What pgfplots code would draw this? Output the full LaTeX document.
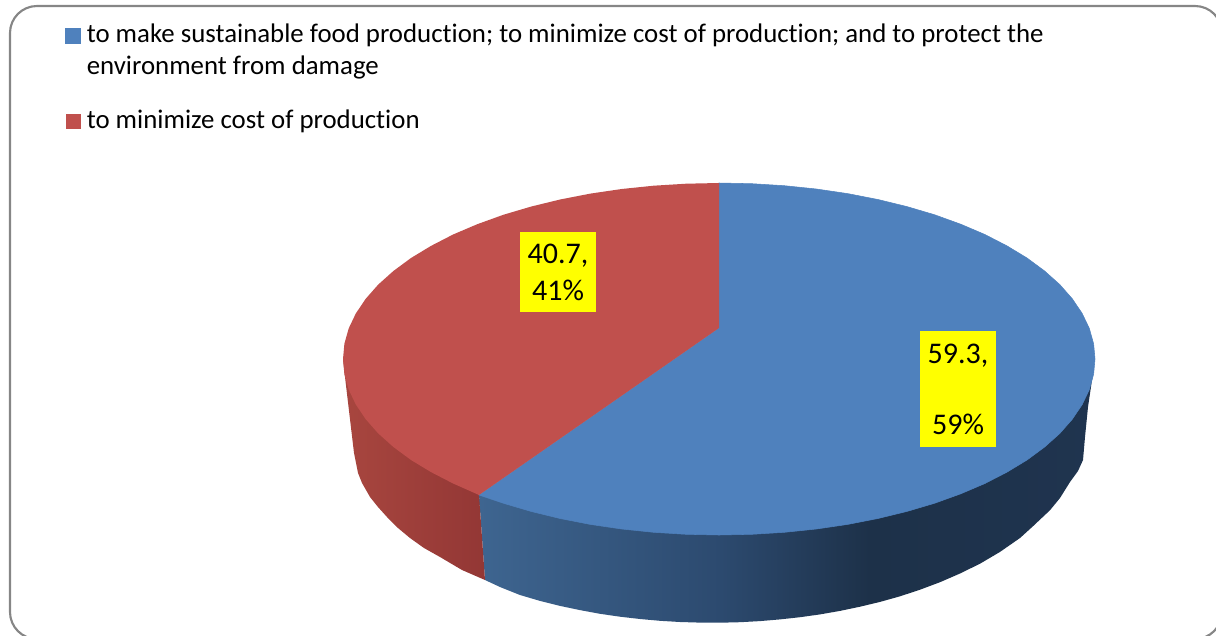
\documentclass[border=0pt]{standalone}
\usepackage{fontspec}
\setmainfont{Carlito}[Ligatures=NoCommon]
\usepackage{pgfplots}
\pgfplotsset{compat=1.18}

\definecolor{pieblue}{HTML}{4F81BD}
\definecolor{piered}{HTML}{C0504D}
\definecolor{frameline}{HTML}{868686}
\definecolor{sideredl}{HTML}{A8463F}
\definecolor{sideredr}{HTML}{933735}
\definecolor{lblyellow}{HTML}{FFFF00}

% side of the blue slice, light on the left and dark from x=870 on
\pgfdeclarehorizontalshading{blueside}{100bp}{
  rgb(0bp)=(.243,.396,.565);
  rgb(25bp)=(.243,.396,.565);
  rgb(44.6bp)=(.173,.290,.435);
  rgb(56.7bp)=(.114,.192,.286);
  rgb(75bp)=(.122,.204,.310);
  rgb(100bp)=(.122,.204,.310)}

\begin{document}
\begin{tikzpicture}
\begin{axis}[
    scale only axis,
    width=912pt,
    height=476.25pt,
    xmin=0, xmax=1216,
    ymin=0, ymax=635,
    y dir=reverse,
    hide axis,
    legend image code/.code={\fill[#1] (0pt,0pt) rectangle (11.25pt,11.25pt);},
    legend cell align=left,
    legend style={
        at={(axis cs:65,24)},
        anchor=north west,
        draw=none,
        fill=none,
        inner sep=0pt,
        row sep=48.75pt,
        nodes={inner sep=0pt, anchor=base west},
        /tikz/column 2/.style={column sep=0pt},
        font=\fontsize{20.13}{24}\selectfont,
    },
]

% frame runs off the right and bottom of the page
\draw[frameline, line width=1.6pt, rounded corners=20.25pt]
    (axis cs:10,6) rectangle (axis cs:1222,639);

% sides, the top faces are painted over them
\addplot[forget plot, draw=none, shading=blueside] coordinates {
    (479,495) (1095,359) (1094,362) (1092,380) (1088,407) (1085,437) (1083,460)
    (1078,471) (1070,482) (1060,498) (1050,510.2) (1033,526.2) (1020,538) (1000,551.9)
    (980,563.7) (960,573.5) (940,582.2) (920,589.7) (900,596.3) (880,601.9) (860,606.7)
    (840,610.9) (820,614.4) (800,617.2) (780,619.4) (760,621.1) (740,622.2) (720,622.7)
    (700,622.6) (680,622) (660,620.8) (640,619) (620,616.7) (600,613.8) (580,610.1)
    (560,605.9) (540,600.9) (520,595) (500,587) (485,580)
};
\addplot[forget plot, draw=none, left color=sideredl, right color=sideredr] coordinates {
    (479,495) (343,359) (345.7,383) (354,453) (358,473) (362,483) (370,497) (378,507)
    (387,517) (398,528) (410,538) (424,548) (440,557) (462,570) (485,580)
};

% top face, blue slice 59.3
\addplot[fill=pieblue, draw=pieblue, line width=0.4pt] coordinates {
    (719,328) (719,183) (751.8,183.7) (784.3,185.7) (816.3,189) (847.6,193.6)
    (877.9,199.5) (907,206.6) (934.7,214.8) (960.7,224.2) (984.9,234.5) (1007,245.9)
    (1027,258) (1044.6,271) (1059.8,284.6) (1072.3,298.8) (1082.2,313.5) (1089.3,328.4)
    (1093.6,343.7) (1095,359) (1093.6,374.3) (1089.3,389.6) (1082.2,404.5) (1072.3,419.2)
    (1059.8,433.4) (1044.6,447) (1027,460) (1007,472.1) (984.9,483.5) (960.7,493.8)
    (934.7,503.2) (907,511.4) (877.9,518.5) (847.6,524.4) (816.3,529) (784.3,532.3)
    (751.8,534.3) (719,535) (686.2,534.3) (653.7,532.3) (621.7,529) (590.4,524.4)
    (560.1,518.5) (531,511.4) (503.3,503.2) (479,495) (719,328)
};
\addlegendentry{\parbox[t]{760pt}{\hspace*{4.5pt}to make sustainable food production; to minimize cost of production; and to protect the\\\hspace*{4.5pt}environment from damage}}

% top face, red slice 40.7
\addplot[fill=piered, draw=none] coordinates {
    (719,328) (479,495) (453.1,483.5) (431,472.1) (411,460) (393.4,447) (378.2,433.4)
    (365.7,419.2) (355.8,404.5) (348.7,389.6) (344.4,374.3) (343,359) (344.4,343.7)
    (348.7,328.4) (355.8,313.5) (365.7,298.8) (378.2,284.6) (393.4,271) (411,258)
    (431,245.9) (453.1,234.5) (477.3,224.2) (503.3,214.8) (531,206.6) (560.1,199.5)
    (590.4,193.6) (621.7,189) (653.7,185.7) (686.2,183.7) (719,183)
};
\addlegendentry{\hspace*{4.5pt}to minimize cost of production}

% data labels
\node[fill=lblyellow, inner sep=0pt, minimum width=57pt, minimum height=60pt, align=center,
      font=\fontsize{22.5}{27.75}\selectfont] at (axis cs:558,272) {40.7,\\41\%};
\node[fill=lblyellow, inner sep=0pt, minimum width=57pt, minimum height=87pt, align=center,
      font=\fontsize{22.5}{53.25}\selectfont] at (axis cs:958,389) {59.3,\\59\%};

\end{axis}
% hidden axis leaves no box of its own, so fix the page to the axis area
\pgfresetboundingbox
\useasboundingbox (0,0) rectangle (912pt,476.25pt);
\end{tikzpicture}
\end{document}
